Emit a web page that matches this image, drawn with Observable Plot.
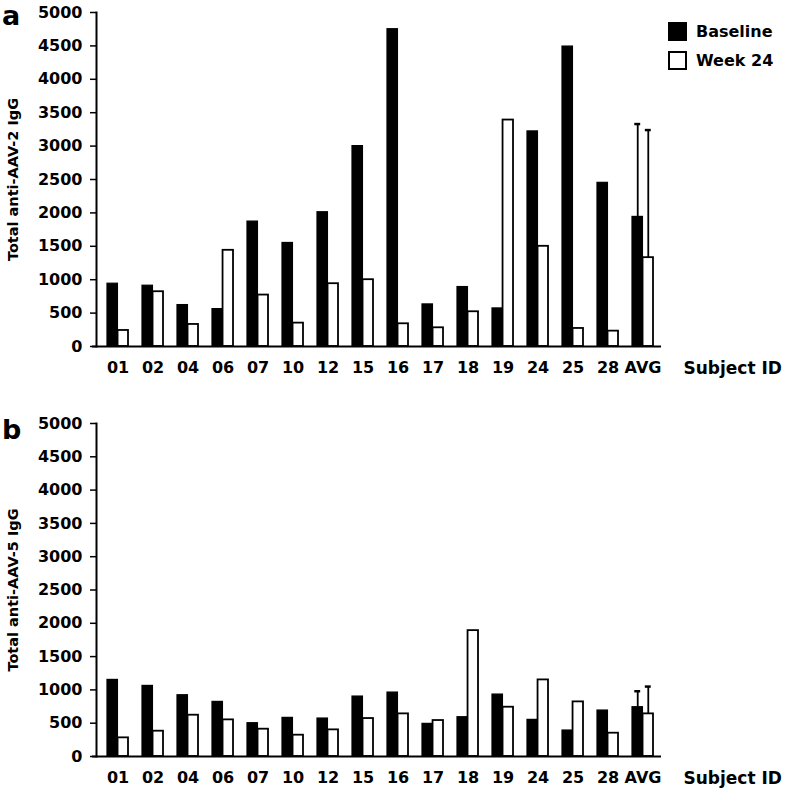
<!DOCTYPE html>
<html>
<head>
<meta charset="utf-8">
<script src="https://cdn.jsdelivr.net/npm/d3@7"></script>
<script src="https://cdn.jsdelivr.net/npm/@observablehq/plot@0.6"></script>
<style>
  body { margin: 0; background: #fff; font-family: "DejaVu Sans", sans-serif; }
  #wrap { position: relative; width: 787px; height: 791px; overflow: hidden; }
  #wrap svg { display: block; }
  .panel-letter { position: absolute; left: 2px; font-size: 27px; font-weight: bold; line-height: normal; color: #000; }
  .legend { position: absolute; left: 668px; top: 21px; font-size: 16px; font-weight: bold; color: #000; }
  .legend .row { display: flex; align-items: center; height: 20px; margin-bottom: 9px; }
  .legend .sw { width: 19px; height: 19px; box-sizing: border-box; border: 2px solid #000; margin-right: 9px; }
</style>
</head>
<body>
<div id="wrap"></div>
<script>
// ---- data ----
const subjects = ["01","02","04","06","07","10","12","15","16","17","18","19","24","25","28","AVG"];
const seriesNames = ["Baseline", "Week 24"];
const aav2Baseline = [940, 910, 620, 560, 1870, 1550, 2010, 3000, 4750, 630, 890, 570, 3220, 4490, 2450, 1940];
const aav2Week24   = [240, 820, 330, 1440, 770, 350, 940, 1000, 340, 280, 520, 3390, 1500, 270, 230, 1330];
const aav2AvgErr   = [1390, 1910];   // upper error (Baseline, Week 24) on AVG
const aav5Baseline = [1150, 1060, 920, 820, 500, 580, 570, 900, 960, 490, 590, 930, 550, 390, 690, 740];
const aav5Week24   = [280, 380, 620, 550, 410, 320, 400, 570, 640, 540, 1890, 740, 1150, 820, 350, 640];
const aav5AvgErr   = [240, 410];
const yTicks = [0, 500, 1000, 1500, 2000, 2500, 3000, 3500, 4000, 4500, 5000];
const xAxisTitle = "Subject ID";
const yTitles = ["Total anti-AAV-2 IgG", "Total anti-AAV-5 IgG"];
const panelLetters = ["a", "b"];

// ---- layout ----
const W = 787;
const X0 = 98.4, X1 = 661, PI = 0.4, PO = 0.2;
const step = (X1 - X0) / (subjects.length - PI + 2 * PO);
const bw = step * (1 - PI);
const half = bw / 2;

function panel({base, wk, err, yTitle, height, marginTop, marginBottom}) {
  const baseRows = subjects.map((s, i) => ({subject: s, series: seriesNames[0], value: base[i]}));
  const wkRows = subjects.map((s, i) => ({subject: s, series: seriesNames[1], value: wk[i]}));
  const last = subjects.length - 1;
  const errBase = [{subject: subjects[last], lo: base[last], hi: base[last] + err[0]}];
  const errWk = [{subject: subjects[last], lo: wk[last], hi: wk[last] + err[1]}];
  const capHalf = 3;
  return Plot.plot({
    width: W, height, marginLeft: 96, marginRight: W - X1, marginTop, marginBottom,
    style: {fontFamily: "DejaVu Sans, sans-serif", fontWeight: "bold", color: "#000", background: "#fff", overflow: "visible"},
    x: {type: "band", domain: subjects, range: [X0, X1], paddingInner: PI, paddingOuter: PO, axis: null},
    y: {domain: [0, 5000], axis: null},
    marks: [
      Plot.barY(baseRows, {x: "subject", y: "value", fill: "#000", stroke: "#000", strokeWidth: 1.2, insetRight: half}),
      Plot.barY(wkRows, {x: "subject", y: "value", fill: "#fff", stroke: "#000", strokeWidth: 1.8, insetLeft: half}),
      Plot.ruleX(errBase, {x: "subject", y1: "lo", y2: "hi", dx: -half / 2, stroke: "#000", strokeWidth: 1.8}),
      Plot.ruleX(errWk, {x: "subject", y1: "lo", y2: "hi", dx: half / 2, stroke: "#000", strokeWidth: 1.8}),
      Plot.tickY(errBase, {x: "subject", y: "hi", insetLeft: half / 2 - capHalf, insetRight: bw - half / 2 - capHalf, stroke: "#000", strokeWidth: 2.5}),
      Plot.tickY(errWk, {x: "subject", y: "hi", insetLeft: bw - half / 2 - capHalf, insetRight: half / 2 - capHalf, stroke: "#000", strokeWidth: 2.5}),
      Plot.ruleY([0], {stroke: "#000", strokeWidth: 2, insetLeft: -4}),
      Plot.frame({anchor: "left", stroke: "#000", strokeWidth: 2}),
      Plot.axisY({ticks: yTicks, tickFormat: d => String(d), tickSize: 6, tickPadding: 8, fontSize: 16, strokeWidth: 1.5, label: null}),
      Plot.axisX({tickSize: 0, tickPadding: 15, fontSize: 16, label: null}),
      Plot.text([xAxisTitle], {text: d => d, frameAnchor: "bottom-right", textAnchor: "start", lineAnchor: "top", dx: 22, dy: 15, fontSize: 17}),
      Plot.text([yTitle], {text: d => d, frameAnchor: "left", textAnchor: "middle", lineAnchor: "middle", rotate: -90, dx: -83, fontSize: 14.5})
    ]
  });
}

const wrap = document.getElementById("wrap");
wrap.append(panel({base: aav2Baseline, wk: aav2Week24, err: aav2AvgErr, yTitle: yTitles[0], height: 385, marginTop: 12, marginBottom: 39}));
wrap.append(panel({base: aav5Baseline, wk: aav5Week24, err: aav5AvgErr, yTitle: yTitles[1], height: 406, marginTop: 38, marginBottom: 35}));

// panel letters
[[panelLetters[0], 0], [panelLetters[1], 414]].forEach(([t, top]) => {
  const d = document.createElement("div");
  d.className = "panel-letter";
  d.style.top = top + "px";
  d.textContent = t;
  wrap.append(d);
});

// legend
const leg = document.createElement("div");
leg.className = "legend";
seriesNames.forEach((name, i) => {
  const row = document.createElement("div");
  row.className = "row";
  const sw = document.createElement("div");
  sw.className = "sw";
  sw.style.background = i === 0 ? "#000" : "#fff";
  const lab = document.createElement("span");
  lab.textContent = name;
  row.append(sw, lab);
  leg.append(row);
});
wrap.append(leg);
</script>
</body>
</html>
